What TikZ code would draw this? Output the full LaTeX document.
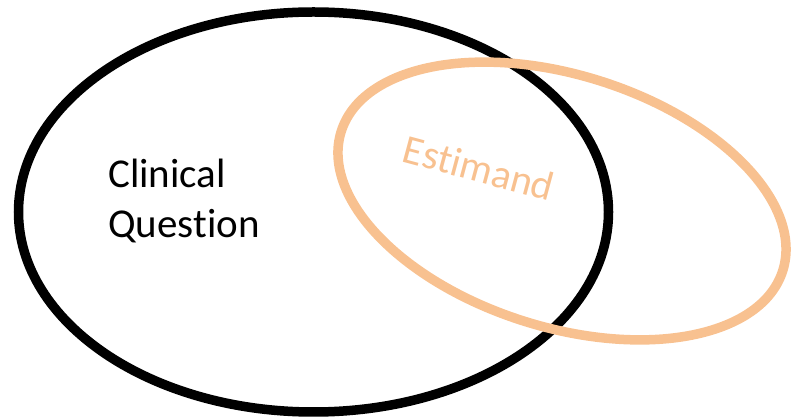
\documentclass[tikz,border=0pt]{standalone}
\usepackage{fontspec}
\setmainfont{Carlito}[Ligatures=NoCommon]
\usepackage{tikz}
\definecolor{estorange}{RGB}{248,193,144}
\tikzset{setline/.style={line width=9.5pt},
  setlabel/.style={font=\fontsize{41}{50}\selectfont, inner sep=0pt}}

\begin{document}
\begin{tikzpicture}[x=1pt, y=1pt]
\useasboundingbox (0,0) rectangle (792,420);
\coordinate (cq) at (313.5,208);
\coordinate (est) at (562,219);
\draw[setline, black] (cq) ellipse [x radius=295, y radius=200];
\draw[setline, estorange, rotate around={-17.5:(est)}] (est) ellipse [x radius=231.5, y radius=126];
\node[setlabel, anchor=north west, align=left] (question) at (108,261) {Clinical\\Question};
\node[setlabel, text=estorange, rotate=-15] (estimand) at (479,252) {Estimand};
\end{tikzpicture}
\end{document}
